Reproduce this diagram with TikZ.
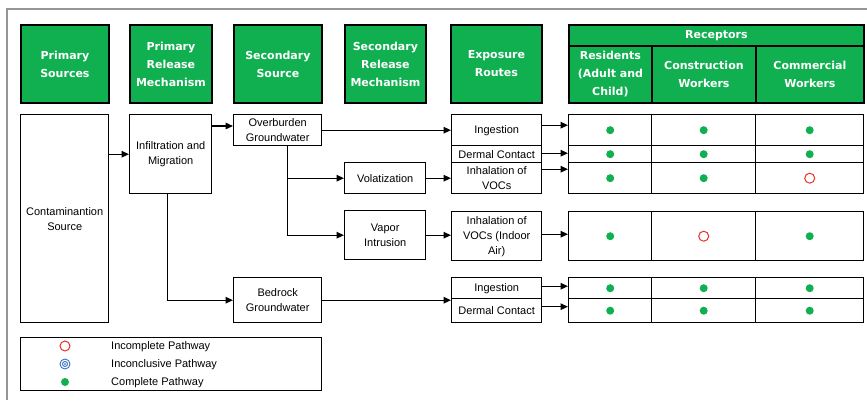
\documentclass[tikz,border=0pt]{standalone}
\usepackage{fontspec}
\setmainfont{Liberation Sans}
\newfontfamily\hdfont{DejaVu Sans}
\usetikzlibrary{arrows.meta,positioning}
\definecolor{hdgreen}{RGB}{16,176,80}
\definecolor{framegray}{RGB}{150,150,150}
\definecolor{dotred}{RGB}{232,48,40}
\definecolor{ringblue}{RGB}{52,112,200}

\begin{document}
\begin{tikzpicture}[x=1pt,y=-1pt, font=\fontsize{11}{15}\selectfont,
      hd/.style={rectangle, draw, line width=1.8pt, fill=hdgreen, text=white, align=center,
                 inner sep=1pt, anchor=north west, font=\hdfont\bfseries\fontsize{11}{18}\selectfont},
      b/.style={rectangle, draw, line width=1.4pt, fill=white, align=center, inner sep=1pt, anchor=north west},
      cl/.style={rectangle, draw, line width=1.4pt, inner sep=0pt, anchor=north west},
      full/.style={circle, fill=hdgreen, minimum size=8pt, inner sep=0pt},
      open/.style={circle, draw=dotred, line width=1pt, minimum size=10pt, inner sep=0pt},
      incl/.style={circle, draw=ringblue, line width=0.9pt, minimum size=10pt, inner sep=0pt,
                   path picture={\draw[ringblue, line width=0.9pt] (path picture bounding box.center) circle (2.5pt);
                                 \fill[ringblue] (path picture bounding box.center) circle (1pt);}},
      arr/.style={-{Triangle[length=7.5pt,width=6.5pt]}, line width=1.4pt}]
    \useasboundingbox (0,0) rectangle (867,400);
    \draw[framegray, line width=1.5pt] (7,400) -- (7,9) -- (867,9);

    % column headers
    \node[hd, minimum width=88pt, minimum height=78pt] (hps) at (20,24) {Primary\\Sources};
    \node[hd, minimum width=82pt, minimum height=78pt] (hprm) at (129,24) {Primary\\Release\\Mechanism};
    \node[hd, minimum width=88pt, minimum height=78pt] (hss) at (233,24) {Secondary\\Source};
    \node[hd, minimum width=81pt, minimum height=78pt] (hsrm) at (344,24) {Secondary\\Release\\Mechanism};
    \node[hd, minimum width=91pt, minimum height=78pt] (hexp) at (450,24) {Exposure\\Routes};
    \node[hd, minimum width=295pt, minimum height=21pt] (hrec) at (568,24) {Receptors};
    \node[hd, minimum width=83pt, minimum height=57pt] (hres) at (568,45) {Residents\\(Adult and\\Child)};
    \node[hd, minimum width=104pt, minimum height=57pt] (hcon) at (651,45) {Construction\\Workers};
    \node[hd, minimum width=108pt, minimum height=57pt] (hcom) at (755,45) {Commercial\\Workers};

    % pathway boxes
    \node[b, minimum width=88pt, minimum height=208pt] (cs) at (20,114) {Contaminantion\\Source};
    \node[b, minimum width=82pt, minimum height=79pt] (inf) at (129,114) {Infiltration and\\Migration};
    \node[b, minimum width=88pt, minimum height=31pt] (obg) at (233,114) {Overburden\\Groundwater};
    \node[b, minimum width=81pt, minimum height=31pt] (vol) at (344,162) {Volatization};
    \node[b, minimum width=81pt, minimum height=49pt] (vap) at (344,210) {Vapor\\Intrusion};
    \node[b, minimum width=88pt, minimum height=45pt] (brg) at (233,277) {Bedrock\\Groundwater};
    \node[b, minimum width=90pt, minimum height=31pt] (ing) at (451,114) {Ingestion};
    \node[b, minimum width=90pt, minimum height=17pt] (drm) at (451,145) {Dermal Contact};
    \node[b, minimum width=90pt, minimum height=31pt] (inh) at (451,162) {Inhalation of\\VOCs};
    \node[b, minimum width=90pt, minimum height=49pt] (ind) at (451,211) {Inhalation of\\VOCs (Indoor\\Air)};
    \node[b, minimum width=90pt, minimum height=21pt] (ing2) at (451,277) {Ingestion};
    \node[b, minimum width=90pt, minimum height=24pt] (drm2) at (451,298) {Dermal Contact};

    % receptor cells
    \foreach \r/\t/\h/\sa/\sb/\sc in {1/114/31/full/full/full, 2/145/17/full/full/full,
        3/162/31/full/full/open, 4/211/49/full/open/full, 5/277/21/full/full/full, 6/298/24/full/full/full}{
      \node[cl, minimum width=83pt, minimum height=\h] (r\r a) at (568,\t) {};
      \node[cl, minimum width=104pt, minimum height=\h] (r\r b) at (651,\t) {};
      \node[cl, minimum width=108pt, minimum height=\h] (r\r c) at (755,\t) {};
      \node[\sa] (d\r a) at (r\r a) {};
      \node[\sb] (d\r b) at (r\r b) {};
      \node[\sc] (d\r c) at (r\r c) {};
    }

    % connectors
    \draw[arr] (cs.east |- inf.west) -- (inf.west);
    \draw[arr] ([yshift=-12pt]inf.north east) -- ([yshift=-12pt]inf.north east -| obg.west);
    \draw[arr] ([xshift=-3pt]inf.south) |- (brg.west);
    \draw[arr] ([xshift=10pt]obg.south) |- (vol.west);
    \draw[arr] ([xshift=10pt]obg.south) |- (vap.west);
    \draw[arr] (obg.east) -- (obg.east -| ing.west);
    \draw[arr] (vol.east) -- (inh.west);
    \draw[arr] (vap.east) -- (vap.east -| ind.west);
    \draw[arr] (brg.east) -- (brg.east -| ing2.west);
    \foreach \e/\c/\s in {ing/r1a/5, drm/r2a/1, inh/r3a/9, ind/r4a/2, ing2/r5a/2, drm2/r6a/4}
      \draw[arr] ([yshift=\s pt]\e.east) -- ([yshift=\s pt]\e.east -| \c.west);

    % legend
    \node[b, minimum width=301pt, minimum height=53pt] (leg) at (20,337) {};
    \node[open] (lopen) at (65,346) {};
    \node[incl] (lincl) at (65,364) {};
    \node[full] (lfull) at (65,382) {};
    \node[anchor=west, inner sep=0pt] (topen) at (111,347) {Incomplete Pathway};
    \node[anchor=west, inner sep=0pt] (tincl) at (111,365) {Inconclusive Pathway};
    \node[anchor=west, inner sep=0pt] (tfull) at (111,383) {Complete Pathway};
  \end{tikzpicture}
\end{document}
